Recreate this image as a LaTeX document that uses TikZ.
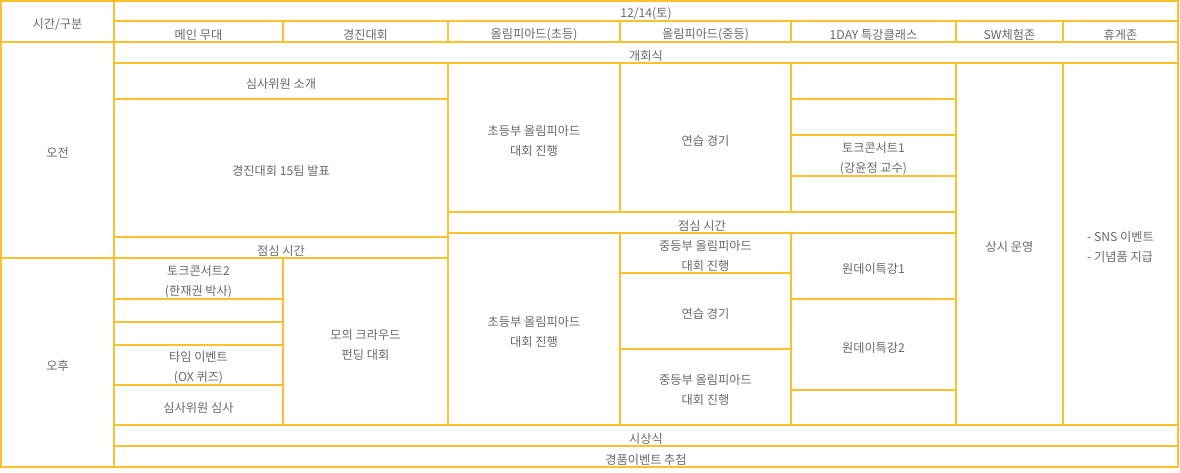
\documentclass[tikz,border=0pt]{standalone}
\usepackage{fontspec}
\newfontfamily\kr{Noto Sans CJK KR}
\definecolor{gridgold}{RGB}{255,192,45}
\definecolor{txtgray}{RGB}{105,105,105}
\tikzset{
  gridline/.style={draw=gridgold, line width=1.4pt},
  celltext/.style={font=\kr\fontsize{12.2}{20}\selectfont, text=txtgray, align=center, inner sep=0pt, yshift=-3pt},
}
\newcommand\tcell[6]{\draw[gridline] (#1,#2) rectangle (#3,#4); \node[celltext] (#5) at ({(#1+#3)/2},{(#2+#4)/2}) {#6};}
\newcommand\bcell[4]{\draw[gridline] (#1,#2) rectangle (#3,#4);}
\begin{document}
\begin{tikzpicture}[x=1pt,y=-1pt]
\useasboundingbox (0,0) rectangle (1180,472);
\fill[white] (0,0) rectangle (1180,472);
% header
\tcell{1}{1}{114}{42}{hd}{시간/구분}
\tcell{114}{1}{1178}{21}{date}{12/14(토)}
\tcell{114}{21}{283}{42}{hmain}{메인 무대}
\tcell{283}{21}{448}{42}{hcomp}{경진대회}
\tcell{448}{21}{620}{42}{helem}{올림피아드(초등)}
\tcell{620}{21}{791}{42}{hmid}{올림피아드(중등)}
\tcell{791}{21}{956}{42}{hday}{1DAY 특강클래스}
\tcell{956}{21}{1063}{42}{hsw}{SW체험존}
\tcell{1063}{21}{1178}{42}{hrest}{휴게존}
% time column
\tcell{1}{42}{114}{258}{am}{오전}
\tcell{1}{258}{114}{467}{pm}{오후}
% body
\tcell{114}{42}{1178}{63}{open}{개회식}
\tcell{114}{63}{448}{99}{judgeintro}{심사위원 소개}
\tcell{114}{99}{448}{237}{teams}{경진대회 15팀 발표}
\tcell{114}{237}{448}{258}{lunchL}{점심 시간}
\tcell{114}{258}{283}{299}{talk2}{토크콘서트2\\(한재권 박사)}
\bcell{114}{299}{283}{322}
\bcell{114}{322}{283}{345}
\tcell{114}{345}{283}{385}{timeev}{타임 이벤트\\(OX 퀴즈)}
\tcell{114}{385}{283}{425}{judging}{심사위원 심사}
\tcell{283}{258}{448}{425}{crowd}{모의 크라우드\\펀딩 대회}
\tcell{448}{63}{620}{212}{elemA}{초등부 올림피아드\\대회 진행}
\tcell{620}{63}{791}{212}{practA}{연습 경기}
\bcell{791}{63}{956}{99}
\bcell{791}{99}{956}{135}
\tcell{791}{135}{956}{176}{talk1}{토크콘서트1\\(강윤정 교수)}
\bcell{791}{176}{956}{212}
\tcell{448}{212}{956}{233}{lunchR}{점심 시간}
\tcell{448}{233}{620}{425}{elemB}{초등부 올림피아드\\대회 진행}
\tcell{620}{233}{791}{273}{midA}{중등부 올림피아드\\대회 진행}
\tcell{620}{273}{791}{349}{practB}{연습 경기}
\tcell{620}{349}{791}{425}{midB}{중등부 올림피아드\\대회 진행}
\tcell{791}{233}{956}{299}{oneday1}{원데이특강1}
\tcell{791}{299}{956}{390}{oneday2}{원데이특강2}
\bcell{791}{390}{956}{425}
\tcell{956}{63}{1063}{425}{always}{상시 운영}
\draw[gridline] (1063,63) rectangle (1178,425);
\node[celltext, align=left] (sns) at (1120.5,244) {- SNS 이벤트\\- 기념품 지급};
\tcell{114}{425}{1178}{446}{award}{시상식}
\tcell{114}{446}{1178}{467}{prize}{경품이벤트 추첨}
\end{tikzpicture}
\end{document}
